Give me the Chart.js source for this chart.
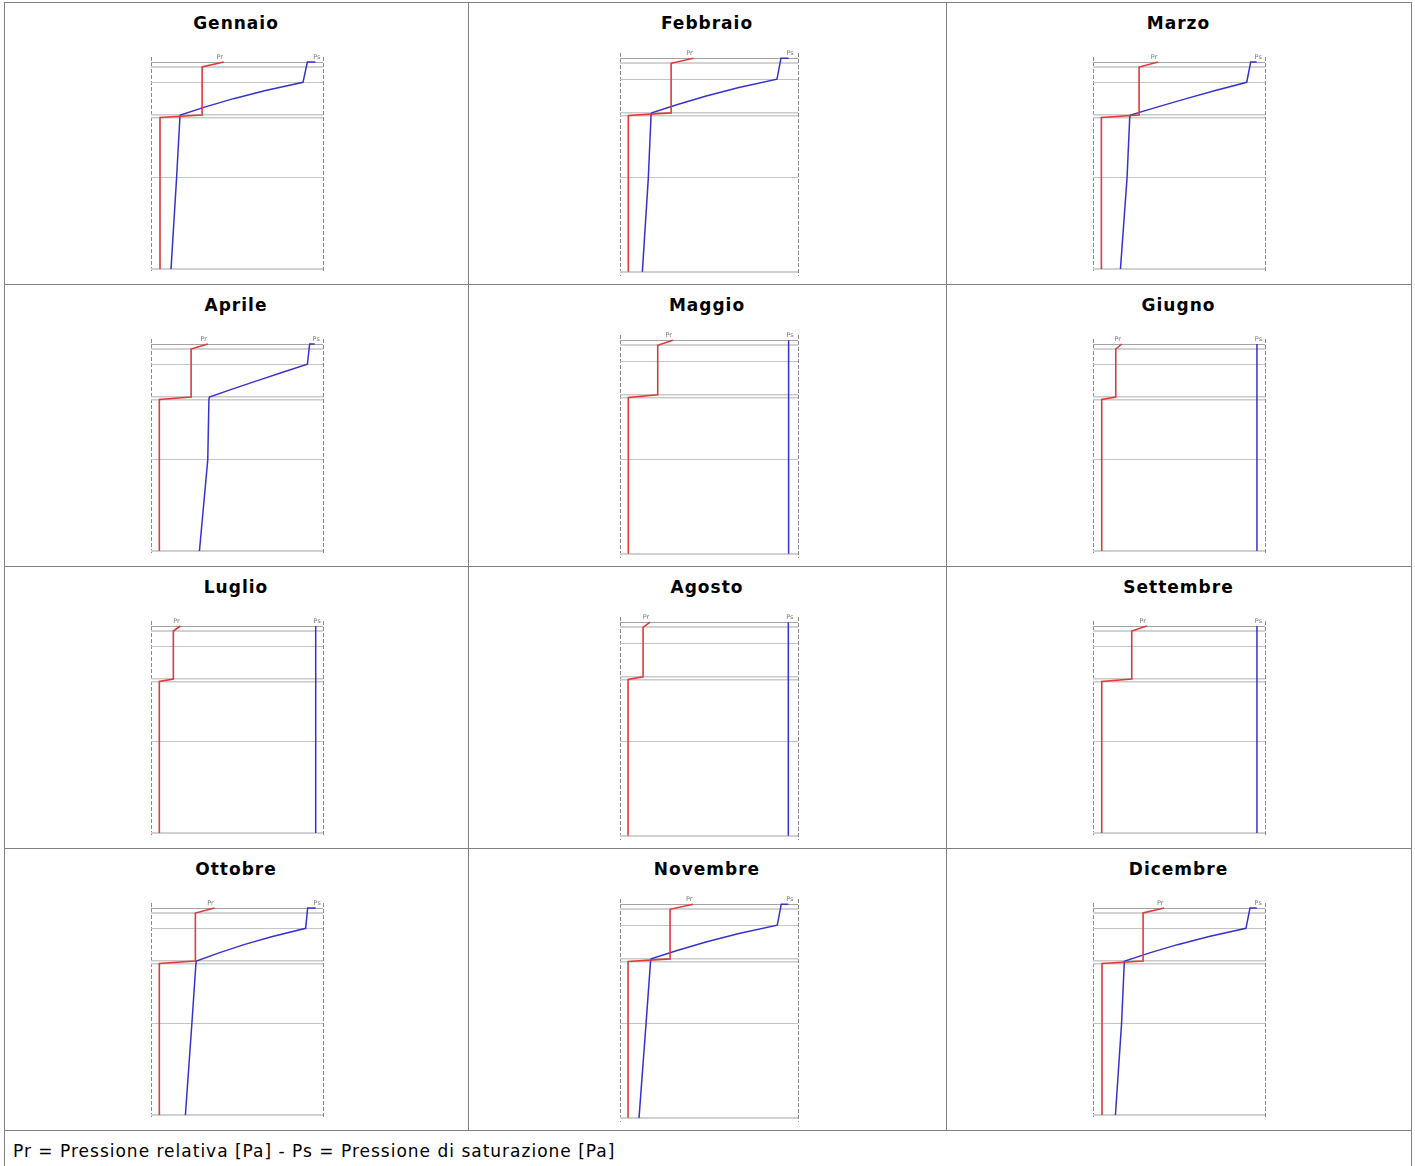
<!DOCTYPE html>
<html>
<head>
<meta charset="utf-8">
<script src="https://cdn.jsdelivr.net/npm/chart.js@4.4.0/dist/chart.umd.min.js"></script>
<style>
  html, body { margin: 0; padding: 0; background: #fff; }
  #page { position: relative; width: 1415px; height: 1166px; overflow: hidden;
          font-family: "DejaVu Sans", Verdana, sans-serif; color: #000; }
  .hl { position: absolute; height: 1px; background: #808080; }
  .vl { position: absolute; width: 1px; background: #808080; }
  .title { position: absolute; font-weight: bold; font-size: 17px; line-height: 20px;
           letter-spacing: 1px; text-align: center; white-space: nowrap; }
  .note { position: absolute; left: 13px; font-size: 17px; line-height: 20px;
          letter-spacing: 1px; white-space: nowrap; }
  canvas { position: absolute; }
</style>
</head>
<body>
<div id="page"></div>
<script>
// Month names (cell titles)
const months = ['Gennaio', 'Febbraio', 'Marzo', 'Aprile', 'Maggio', 'Giugno',
                'Luglio', 'Agosto', 'Settembre', 'Ottobre', 'Novembre', 'Dicembre'];

// Depth through the wall section [cm], from inside (top) to outside (bottom)
const layerBounds = [0, 1.0, 4.06, 10.6, 11.1, 23.14, 41.4];
const prDepth = [0, 1.0, 4.06, 10.6, 11.1, 23.14, 41.4];
const psDepth = [0, 0, 4.06, 5.7, 7.33, 8.97, 10.6, 11.1, 23.14, 41.4];

// Pr = pressione relativa [Pa] at prDepth
const prGennaio   = [1058, 743, 743, 743, 131, 131, 131];
const prFebbraio  = [1031, 718, 718, 718, 117, 117, 117];
const prMarzo     = [946, 670, 670, 670, 122, 122, 122];
const prAprile    = [825, 583, 583, 583, 121, 121, 121];
const prMaggio    = [741, 530, 530, 530, 117, 117, 117];
const prGiugno    = [418, 331, 331, 331, 127, 127, 127];
const prLuglio    = [427, 325, 325, 325, 121, 121, 121];
const prAgosto    = [422, 324, 324, 324, 113, 113, 113];
const prSettembre = [782, 563, 563, 563, 127, 127, 127];
const prOttobre   = [922, 645, 645, 645, 121, 121, 121];
const prNovembre  = [1027, 703, 703, 703, 113, 113, 113];
const prDicembre  = [1034, 728, 728, 728, 131, 131, 131];

// Ps = pressione di saturazione [Pa] at psDepth
const psGennaio   = [2389, 2273, 2209, 1665, 1199, 791, 427, 420, 372, 291];
const psFebbraio  = [2368, 2261, 2205, 1670, 1211, 809, 446, 436, 398, 314];
const psMarzo     = [2379, 2292, 2234, 1778, 1356, 942, 545, 534, 495, 399];
const psAprile    = [2379, 2306, 2273, 1903, 1547, 1190, 849, 842, 825, 704];
const psMaggio    = [2368, 2368, 2368, 2368, 2368, 2368, 2368, 2368, 2368, 2368];
const psGiugno    = [2383, 2383, 2383, 2383, 2383, 2383, 2383, 2383, 2383, 2383];
const psLuglio    = [2394, 2394, 2394, 2394, 2394, 2394, 2394, 2394, 2394, 2394];
const psAgosto    = [2364, 2364, 2364, 2364, 2364, 2364, 2364, 2364, 2364, 2364];
const psSettembre = [2383, 2383, 2383, 2383, 2383, 2383, 2383, 2383, 2383, 2383];
const psOttobre   = [2394, 2277, 2248, 1766, 1351, 988, 660, 653, 594, 500];
const psNovembre  = [2364, 2265, 2209, 1670, 1207, 802, 436, 429, 366, 267];
const psDicembre  = [2379, 2282, 2223, 1688, 1227, 824, 462, 454, 415, 326];

const prSeries = [prGennaio, prFebbraio, prMarzo, prAprile, prMaggio, prGiugno,
                  prLuglio, prAgosto, prSettembre, prOttobre, prNovembre, prDicembre];
const psSeries = [psGennaio, psFebbraio, psMarzo, psAprile, psMaggio, psGiugno,
                  psLuglio, psAgosto, psSettembre, psOttobre, psNovembre, psDicembre];

const noteText = 'Pr = Pressione relativa [Pa] - Ps = Pressione di saturazione [Pa]';

// Pressure axis range and depth axis range
const pMin = 0, pMax = 2500;
const dMin = -1.0, dMax = 42.2;

// ---- page layout -------------------------------------------------------
const page = document.getElementById('page');
const rowTops = [2, 284, 566, 848];
const colEdges = [4, 468, 946, 1411];
const cols = [
  { l: 151, r: 323, t: 57, b: 273 },
  { l: 620, r: 798, t: 53, b: 276 },
  { l: 1093, r: 1265, t: 57, b: 273 }
];

function addLine(cls, x, y, len) {
  const d = document.createElement('div');
  d.className = cls;
  d.style.left = x + 'px';
  d.style.top = y + 'px';
  if (cls === 'hl') d.style.width = len + 'px'; else d.style.height = len + 'px';
  page.appendChild(d);
}
// table grid
[2, 284, 566, 848, 1130].forEach(y => addLine('hl', 4, y, 1408));
addLine('vl', 4, 2, 1170);
addLine('vl', 1411, 2, 1170);
addLine('vl', 468, 2, 1128);
addLine('vl', 946, 2, 1128);

const note = document.createElement('div');
note.className = 'note';
note.style.top = '1141px';
note.textContent = noteText;
page.appendChild(note);

// ---- chart styling ----------------------------------------------------
const RED = '#e03a3a';
const BLUE = '#3434cc';
const layerColors = ['#a4a4a4', '#d2d2d2', '#c4c4c4', '#cacaca', '#cacaca', '#c4c4c4', '#d0d0d0'];
const layerWidths = [1, 2, 1, 1.5, 1.5, 1, 2];

// Draws the "Pr" / "Ps" tags above the first point of each curve
const curveTags = {
  id: 'curveTags',
  afterDatasetsDraw(chart) {
    const ctx = chart.ctx;
    ctx.save();
    ctx.font = '6.5px "DejaVu Sans", sans-serif';
    ctx.fillStyle = '#777';
    ctx.textAlign = 'center';
    ctx.textBaseline = 'alphabetic';
    chart.data.datasets.forEach((ds, i) => {
      const p = chart.getDatasetMeta(i).data[0];
      ctx.fillText(ds.label, p.x + ds.tagDx, p.y - 3.3);
    });
    ctx.restore();
  }
};

months.forEach((name, m) => {
  const row = Math.floor(m / 3), col = m % 3;
  const rt = rowTops[row];
  const g = cols[col];

  const t = document.createElement('div');
  t.className = 'title';
  t.style.left = colEdges[col] + 'px';
  t.style.width = (colEdges[col + 1] - colEdges[col]) + 'px';
  t.style.top = (rt + 11) + 'px';
  t.textContent = name;
  page.appendChild(t);

  const off = rt - 2;
  const padL = 20, padR = 20, padT = 15, padB = 5;
  const cv = document.createElement('canvas');
  const w = (g.r - g.l) + padL + padR;
  const h = (g.b - g.t) + padT + padB;
  cv.width = w; cv.height = h;
  cv.style.width = w + 'px'; cv.style.height = h + 'px';
  cv.style.left = (g.l - padL) + 'px';
  cv.style.top = (g.t + off - padT) + 'px';
  page.appendChild(cv);

  new Chart(cv, {
    type: 'scatter',
    data: {
      datasets: [
        { label: 'Pr', tagDx: -4,
          data: prDepth.map((d, i) => ({ x: prSeries[m][i], y: d })),
          showLine: true, borderColor: RED, borderWidth: 1.6, pointRadius: 0, tension: 0 },
        { label: 'Ps', tagDx: 1.5,
          data: psDepth.map((d, i) => ({ x: psSeries[m][i], y: d })),
          showLine: true, borderColor: BLUE, borderWidth: 1.5, pointRadius: 0, tension: 0 }
      ]
    },
    options: {
      responsive: false, animation: false, devicePixelRatio: 1,
      layout: { padding: { left: padL, right: padR, top: padT, bottom: padB } },
      plugins: { legend: { display: false }, tooltip: { enabled: false } },
      scales: {
        x: {
          type: 'linear', min: pMin, max: pMax,
          ticks: { display: false },
          grid: { color: '#8a8a8a', lineWidth: 1, drawTicks: false },
          border: { display: false, dash: [4, 2] },
          afterBuildTicks: s => { s.ticks = [{ value: pMin }, { value: pMax }]; },
          afterFit: s => { s.height = 0; }
        },
        y: {
          type: 'linear', reverse: true, min: dMin, max: dMax,
          ticks: { display: false },
          grid: {
            drawTicks: false,
            color: c => layerColors[c.index] || '#c4c4c4',
            lineWidth: c => layerWidths[c.index] || 1
          },
          border: { display: false },
          afterBuildTicks: s => { s.ticks = layerBounds.map(v => ({ value: v })); },
          afterFit: s => { s.width = 0; }
        }
      }
    },
    plugins: [curveTags]
  });
});
</script>
</body>
</html>
